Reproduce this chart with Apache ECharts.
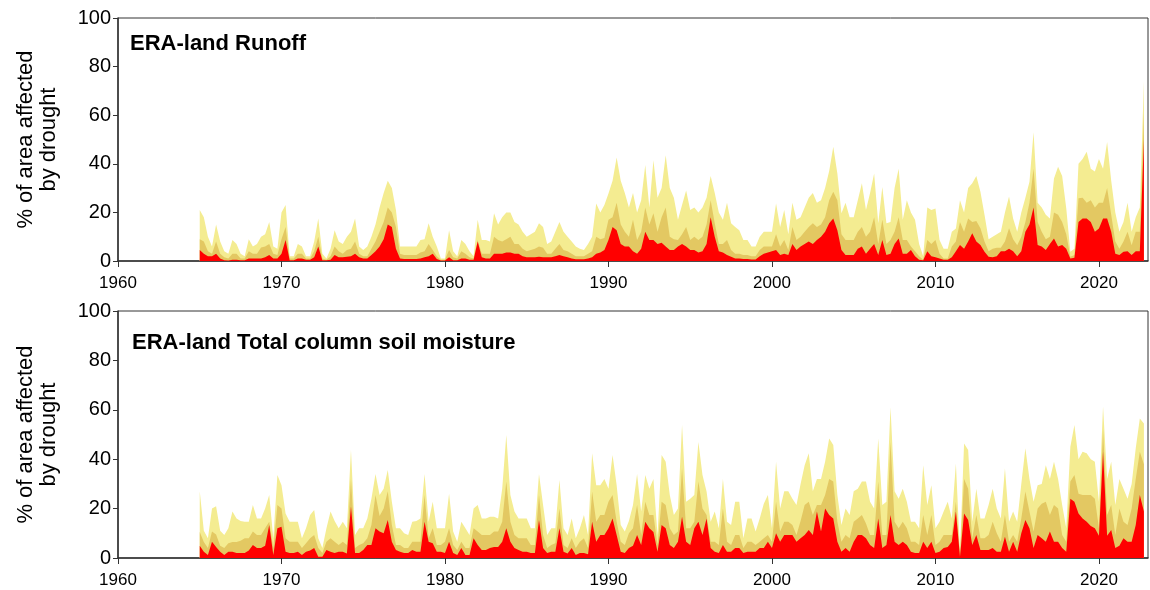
<!DOCTYPE html>
<html>
<head>
<meta charset="utf-8">
<title>ERA-land drought area</title>
<script src="https://cdn.jsdelivr.net/npm/echarts@6/dist/echarts.min.js"></script>
<style>
  html, body { margin: 0; padding: 0; background: #fff; }
  #main { width: 1150px; height: 590px; }
</style>
</head>
<body>
<div id="main"></div>
<script>
// quarterly readings from 1965 Q1, cumulative top of each band (% area)
var startYear = 1965;
var perYear = 4;
var xTicks = [1960, 1970, 1980, 1990, 2000, 2010, 2020];

// ERA-land Runoff
var runoffModerate = [
  21, 18, 10, 6,   15, 8, 4, 3,   8.6, 7, 3, 2,   9, 6, 7, 10,   11, 16, 6, 5,
  20, 23, 2, 2,   7, 6, 2, 2,   8, 17.5, 3, 1,   5, 12.7, 8, 7,   10, 12, 17.5, 6,
  4.5, 6, 10, 15,   22, 28, 33, 30,   21, 6, 6, 6,   6, 6, 8.6, 9,   15.5, 10, 6, 1,
  1, 12.7, 4, 2,   8.6, 7, 4, 2,   17, 8.6, 8.6, 8,   19.6, 15, 18, 20,   20, 16, 15, 12,
  10, 11, 12, 15.5,   14, 7, 8, 12,   16, 12, 10, 8,   6, 5, 4.5, 7,   10, 23.7, 20, 23,
  27.8, 33, 42.6, 33,   28, 22, 28, 20,   25, 39.5, 22, 41.5,   26, 30, 43.5, 30,   26, 17, 23, 29,
  21, 22, 20, 22,   26, 35, 28, 20,   17, 24, 15.5, 14,   12.7, 8.6, 8.6, 6,   6, 10, 12, 12,
  12, 23.7, 14, 21,   11, 24, 17, 18,   22, 26, 28, 24,   25, 30, 37, 47,   36, 19.6, 24, 18,
  18, 25, 32, 21,   28, 36, 15.5, 30.5,   15.5, 16, 30, 38,   17, 25, 20, 17,   7, 2, 22, 21,
  21.6, 8.6, 5, 5,   12, 13.4, 25, 20,   30, 32, 35, 28.5,   19, 9, 10, 11,   12, 20, 26.5, 17.5,
  12, 20, 26, 32.6,   53, 24, 22, 19,   17.5, 34, 38.8, 35,   21.7, 3.8, 5, 40,   42, 45, 38, 36.8,
  42, 38, 49, 33,   20, 12, 16, 24,   12, 18, 22, 74
];
var runoffSevere = [
  9, 8, 4, 3,   8, 3, 1.5, 1,   3, 3, 1, 1,   4, 3, 3, 5.6,   6, 7, 3, 2.5,
  9, 14, 1, 1,   3, 3, 1, 1,   4, 10, 1, 0.5,   2, 6, 4, 3,   4.5, 5, 8, 3,
  2, 2, 5, 8,   12, 16, 22, 20,   14, 3, 2.5, 2.5,   2.5, 2.5, 3.5, 4,   7, 4.5, 2, 0.5,
  0.5, 4.5, 1.5, 1,   4, 3, 1.5, 1,   8.6, 3, 3, 3,   10, 8.6, 8, 9,   10, 7, 7, 5,
  4, 4.5, 5, 6,   5.5, 3, 3, 5,   7, 4.5, 4, 3,   2, 2, 2, 3,   4, 10, 9, 9.5,
  17, 18, 24, 15,   12, 10, 17, 8.6,   12, 22, 15, 19.6,   12, 18, 22, 10,   9, 8.6, 11, 14,
  8.6, 10, 8.6, 10,   15, 25, 15.5, 7,   7, 8.6, 4.5, 3,   3, 2.5, 2.5, 2,   2, 4.5, 6, 6,
  6, 11, 6, 8.6,   4.5, 14, 8.6, 10,   12, 14, 15.5, 14,   15, 18, 25, 28.5,   25, 11, 8.6, 8.6,
  8.6, 12, 14, 10,   12, 18, 7, 17,   7, 8.6, 12, 18,   8.6, 8.6, 6, 4,   2, 0.5, 8.6, 7,
  8.6, 3, 1, 1,   6, 8, 16, 12,   17.5, 16, 16.5, 13.5,   8, 4, 5, 5.5,   5.5, 8, 13.5, 9,
  6.5, 10, 16, 24,   38, 16, 12, 9,   10, 20, 19, 16,   11, 1.8, 2.5, 25.8,   26, 24, 25, 22,
  24, 24, 30, 19,   8, 5, 8, 12,   6.5, 12, 12, 61
];
var runoffExtreme = [
  4.5, 3, 2, 2,   3, 1, 0.3, 0.2,   0.5, 0.5, 0.3, 0.3,   1, 1, 1, 1,   1.5, 2.5, 1, 1,
  3, 8.6, 0.3, 0.3,   1, 1, 0.5, 0.5,   1.5, 6, 0.3, 0.3,   0.5, 2.5, 1.5, 1.5,   1.8, 2, 3, 1.5,
  1, 1, 2.5, 4,   6, 9, 15, 14,   5, 1, 0.8, 0.8,   0.8, 0.8, 1, 1.5,   2, 3, 0.8, 0.2,
  0.2, 1.5, 0.3, 0.3,   1, 1, 0.5, 0.5,   8, 1.5, 1, 1,   3, 3, 3, 3.5,   3.5, 3, 3, 2,
  1.5, 1.5, 1.5, 1.8,   1.5, 1.5, 1.5, 2,   2.5, 2, 1.5, 1,   0.7, 0.7, 0.7, 1,   1.5, 3, 3.5, 4.5,
  8.6, 14, 12.7, 7,   6, 6, 4, 3,   5, 12, 8.6, 8.6,   7, 7.5, 6, 4.5,   4.5, 6, 7, 6,
  4.5, 4.5, 3.5, 4,   7, 18, 10, 4,   3.5, 2.5, 1.8, 1,   1, 0.8, 0.8, 0.6,   0.6, 2, 3, 3.5,
  4, 4.5, 2.5, 3,   2.5, 7, 4.5, 6,   7, 8, 7, 8.6,   10, 12, 15.5, 17.5,   12.7, 4.5, 2.5, 2.5,
  2.5, 5, 6, 3,   5, 7, 2.5, 8.6,   2.5, 3, 7, 9.3,   3, 3, 4.5, 2,   0.5, 0.3, 4, 2,
  1.5, 1, 0.5, 0.5,   1.5, 4, 6.6, 5,   8, 11.4, 8, 6.6,   3.8, 1.8, 1.5, 2,   4, 4, 5, 4,
  2, 4, 12, 15,   22, 6.6, 6, 4.5,   7, 9.3, 6, 6.6,   5, 1, 1.3, 16,   17.5, 17.5, 16, 12,
  13.4, 17.5, 17.5, 12,   3, 2.5, 3.8, 4,   2.5, 4, 4, 50
];

// ERA-land Total column soil moisture
var soilModerate = [
  27, 11, 8, 20,   21, 11, 9.3, 12,   18.8, 16, 15, 14.7,   14.7, 21.5, 16, 16,   20, 25.5, 8, 33.6,
  29.5, 18, 14.7, 14.7,   14.7, 8, 12, 17.4,   19.4, 8, 4, 12,   18.8, 15, 12, 14.7,   12, 43.7, 9.3, 12,
  12, 16, 24, 34,   25.5, 28, 35.6, 22.8,   12, 12, 10, 9.3,   14.7, 15, 16, 34,   14.7, 22.8, 12, 12,
  12, 26, 10.7, 6.6,   14.7, 12, 9.3, 20,   21.5, 16, 16, 16.7,   16.7, 16, 28, 49.8,   25.5, 18.8, 16, 16,
  16, 12, 12, 34,   21.5, 9.3, 12, 12,   31.6, 12, 9.3, 16,   8, 12, 17.4, 9.3,   42.4, 29.5, 29.5, 32,
  28, 41.7, 29.5, 13.4,   10.7, 15, 21.5, 34,   18.8, 33.6, 28, 32,   9.3, 41.7, 39, 25.5,   17.4, 20, 53.8, 22.8,
  24, 25.5, 47, 33.6,   26.9, 14.7, 18.8, 12,   32, 14.7, 13.4, 22.8,   22.8, 8, 16, 16,   10.7, 16, 22, 25.5,
  12, 39, 20, 27,   27, 24, 21.5, 30,   37.6, 42.4, 27, 32,   32, 39, 48.4, 45.7,   25.5, 13.4, 20, 17.4,
  27, 28, 31, 31,   22.8, 20, 48.4, 21.5,   22.8, 61, 27, 24,   28, 22.8, 14.7, 14.7,   12, 37.6, 21.5, 29.5,
  12, 14.7, 18.8, 22.8,   16, 38.3, 2.5, 46.4,   43.7, 14.7, 28, 16,   16, 21.5, 28, 20,   16, 36.3, 14.7, 18.8,
  14.7, 30, 44.4, 32,   22.8, 29.5, 30, 37.6,   32, 39, 32, 21.5,   12, 45, 53.8, 40,   43, 42.4, 40, 39,
  22.8, 61.3, 32, 39,   21.5, 32, 28, 24,   30, 44.4, 56.5, 54.5
];
var soilSevere = [
  10.5, 6.5, 4, 10.7,   9.5, 5, 4, 6,   6.5, 6.5, 7, 8,   8, 10.7, 9.3, 9.3,   12, 14.7, 4, 21.5,
  20, 8, 6.6, 6.6,   6.6, 4, 6, 8,   9.3, 4, 2, 6.6,   8, 6.6, 5.3, 6.6,   5.3, 32, 4, 5.3,
  6, 8, 13.4, 25.5,   17, 20, 27, 13.4,   5.3, 5.3, 4, 4,   6.6, 6.6, 6.6, 25.5,   8, 12, 5.3, 5.3,
  6.6, 12, 5.3, 3.2,   6.6, 4, 4, 12,   10.7, 9.3, 9.3, 9.3,   10.7, 10.7, 14.7, 31,   14.7, 9.3, 8, 8,
  8, 5.3, 5.3, 25.5,   9.3, 4, 5.3, 6,   20, 5.3, 4, 8,   4, 6.6, 8, 4,   26.9, 14.7, 17.4, 17.4,
  22.8, 25.5, 14.7, 6.6,   5.3, 10, 12, 21.5,   9.3, 22.8, 17.4, 17.4,   5.3, 22.8, 21.5, 12,   9.3, 10.7, 36.3, 12,
  12, 14.7, 31, 20,   17.4, 6.6, 6.6, 5.3,   20, 6.6, 5.3, 9.3,   9.3, 4, 6.6, 6.6,   5.3, 6.6, 8, 9.3,
  6.6, 22.8, 10.7, 14.7,   14.7, 13.4, 9.3, 15,   21.5, 22.8, 17.4, 21.5,   21.5, 25.5, 32, 31,   14.7, 6.6, 9.3, 8,
  14.7, 16, 17.4, 14,   9.3, 9.3, 31, 9.3,   9.3, 47, 14.7, 12,   14.7, 12, 6.6, 6.6,   5.3, 17.4, 9.3, 17.4,
  5.3, 6.6, 9.3, 9.3,   9.3, 22.8, 1.2, 32,   28, 8, 17.4, 8,   8, 9.3, 14.7, 10,   6.6, 17.4, 6.6, 9.3,
  6.6, 16, 26.9, 18.8,   10.7, 20, 22, 22.8,   17.4, 21.5, 20, 9.3,   6.6, 31, 33.6, 26,   25.5, 25.5, 25.5, 24,
  12, 52, 17.4, 21.5,   9.3, 20, 14.7, 13.4,   20, 32, 43, 38
];
var soilExtreme = [
  5, 2.5, 1.2, 6.6,   4.5, 2.5, 1.2, 2.5,   2.5, 2, 2, 2,   3, 5.3, 4, 4,   5, 13.4, 1.2, 12,
  12.7, 2.5, 2, 2,   2.5, 1.2, 2.5, 3,   4, 0.5, 0.5, 3.2,   2.5, 2, 2.5, 2.5,   1.8, 20.8, 2, 2,
  3.2, 5.3, 5.3, 12,   10.7, 10, 15.4, 6.6,   3.2, 2.5, 2, 2,   3.2, 2.5, 2.5, 14.7,   6.6, 6, 2.5, 2.5,
  2, 6.6, 2, 1.2,   4, 1.2, 1.2, 8,   5.3, 3.2, 3.2, 4,   4.5, 4.5, 6.6, 12,   6.6, 4, 3.2, 2.5,
  2.5, 2, 2, 15.4,   4, 2, 2.5, 2.5,   12, 2.5, 1.8, 4,   1.2, 2, 2, 1.5,   14.7, 6.6, 9.3, 9.3,
  12, 16, 9.3, 2.5,   2, 4, 5, 9.3,   5.3, 14.7, 12, 10.5,   2.5, 13.4, 12, 5.3,   4, 6.6, 16.7, 6.6,
  5.3, 12, 14.7, 9.3,   16, 4, 2.5, 2,   5.3, 2.5, 2.5, 4,   4, 2, 2.5, 2.5,   2.5, 4, 4, 6.6,
  4, 10, 6.6, 9.3,   9.3, 9.3, 6.6, 8,   9.3, 11.3, 9.3, 18.8,   10.7, 20, 17.4, 16,   6.6, 2.5, 4, 2.5,
  6.6, 9.3, 9.3, 8,   5.3, 4, 16, 4,   5.3, 17.4, 6.6, 5.3,   6.6, 5.3, 2.5, 2,   2, 6.6, 4, 6.6,
  2, 2.5, 4, 4.5,   6.6, 18.8, 0.5, 18,   15.4, 5.3, 9.3, 3.2,   3.2, 3.2, 4, 2.5,   2.5, 8.6, 2.5, 6.6,
  2.5, 10, 15.4, 12,   4, 9.3, 8, 6.6,   10.7, 6.6, 6.6, 4,   2.5, 24, 22.8, 18,   16, 14.7, 13, 12,
  9, 43, 9, 11.3,   4, 5, 8, 6.6,   6.6, 13.4, 25.5, 18.8
];

var colModerate = '#f4ec91';
var colSevere = '#e3c862';
var colExtreme = '#ff0000';
var axisCol = '#333';
var font = '"Liberation Sans", Arial, sans-serif';

function pairs(arr) {
    return arr.map(function (v, i) { return [startYear + i / perYear, v]; });
}

function band(name, idx, arr, color, z) {
    return {
        name: name,
        type: 'line',
        xAxisIndex: idx,
        yAxisIndex: idx,
        data: pairs(arr),
        showSymbol: false,
        silent: true,
        z: z,
        lineStyle: { width: 0, opacity: 0 },
        areaStyle: { color: color, opacity: 1 },
        animation: false
    };
}

function xAxisFor(idx) {
    return {
        type: 'value',
        gridIndex: idx,
        min: xTicks[0],
        max: 2023,
        interval: 10,
        splitLine: { show: false },
        axisLine: { onZero: false, lineStyle: { color: axisCol, width: 1.5 } },
        axisTick: { length: 6, customValues: xTicks, lineStyle: { color: axisCol } },
        axisLabel: {
            margin: 14, fontSize: 17, color: '#000', fontFamily: font,
            customValues: xTicks,
            formatter: function (v) { return String(v); }
        }
    };
}

function yAxisFor(idx) {
    return {
        type: 'value',
        gridIndex: idx,
        min: 0,
        max: 100,
        interval: 20,
        splitLine: { show: false },
        axisLine: { show: true, lineStyle: { color: axisCol, width: 1.5 } },
        axisTick: { show: true, length: 5, lineStyle: { color: axisCol } },
        axisLabel: { margin: 7, fontSize: 20, color: '#000', fontFamily: font },
        name: '% of area affected\nby drought',
        nameLocation: 'middle',
        nameRotate: 90,
        nameGap: 58,
        nameTextStyle: { fontSize: 22, lineHeight: 23, color: '#000', fontFamily: font }
    };
}

var myChart = echarts.init(document.getElementById('main'));

var option = {
    backgroundColor: '#fff',
    animation: false,
    title: [{
        text: 'ERA-land Runoff',
        left: 130, top: 33, padding: 0,
        textStyle: { fontSize: 22, fontWeight: 'bold', color: '#000', fontFamily: font }
    }, {
        text: 'ERA-land Total column soil moisture',
        left: 132, top: 332, padding: 0,
        textStyle: { fontSize: 22, fontWeight: 'bold', color: '#000', fontFamily: font }
    }],
    grid: [
        { left: 118, top: 18, width: 1030, height: 243, show: true, borderColor: axisCol, borderWidth: 1 },
        { left: 118, top: 311, width: 1030, height: 247, show: true, borderColor: axisCol, borderWidth: 1 }
    ],
    xAxis: [xAxisFor(0), xAxisFor(1)],
    yAxis: [yAxisFor(0), yAxisFor(1)],
    series: [
        band('Moderate', 0, runoffModerate, colModerate, 1),
        band('Severe', 0, runoffSevere, colSevere, 2),
        band('Extreme', 0, runoffExtreme, colExtreme, 3),
        band('Moderate', 1, soilModerate, colModerate, 1),
        band('Severe', 1, soilSevere, colSevere, 2),
        band('Extreme', 1, soilExtreme, colExtreme, 3)
    ]
};

myChart.setOption(option);

window.addEventListener('resize', function () {
    myChart.resize();
});
</script>
</body>
</html>
